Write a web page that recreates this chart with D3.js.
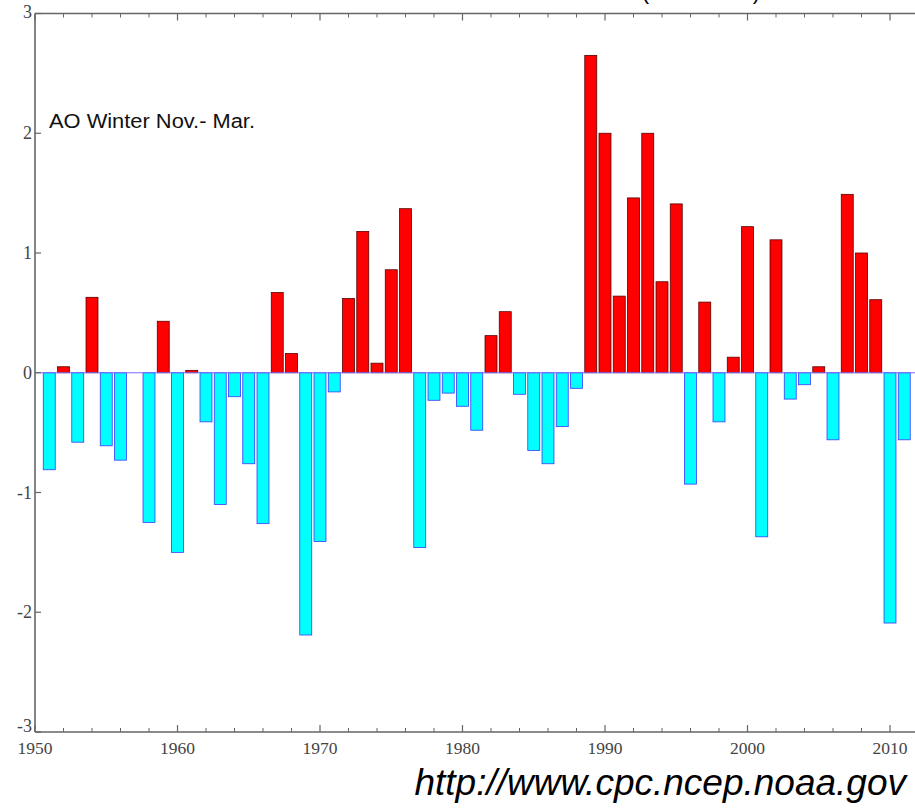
<!DOCTYPE html>
<html>
<head>
<meta charset="utf-8">
<script src="https://cdn.jsdelivr.net/npm/d3@7"></script>
<style>
  body { margin: 0; background: #fff; }
  svg { display: block; }
</style>
</head>
<body>
<svg id="chart" width="915" height="808"></svg>
<script>
// winter (Nov-Mar) AO index, one value per year
const years = d3.range(1951, 2012);
const aoValues = [
  -0.81, 0.05, -0.58, 0.63, -0.61, -0.73, 0.00, -1.25, 0.43, -1.50,
  0.02, -0.41, -1.10, -0.20, -0.76, -1.26, 0.67, 0.16, -2.19, -1.41,
  -0.16, 0.62, 1.18, 0.08, 0.86, 1.37, -1.46, -0.23, -0.17, -0.28,
  -0.48, 0.31, 0.51, -0.18, -0.65, -0.76, -0.45, -0.13, 2.65, 2.00,
  0.64, 1.46, 2.00, 0.76, 1.41, -0.93, 0.59, -0.41, 0.13, 1.22,
  -1.37, 1.11, -0.22, -0.10, 0.05, -0.56, 1.49, 1.00, 0.61, -2.09,
  -0.56
];
const yTicks = [-3, -2, -1, 0, 1, 2, 3];
const xMajorTicks = [1950, 1960, 1970, 1980, 1990, 2000, 2010];
const xMinorTicks = d3.range(1952, 2012, 2).filter(y => y % 10 !== 0);

const data = years.map((yr, i) => ({ year: yr, value: aoValues[i] }));

const svg = d3.select("#chart");
const plotLeft = 35, plotTop = 13.5, plotBottom = 732;
const yearW = 14.25;

var x = d3.scaleLinear().domain([1950, 2012]).range([plotLeft, plotLeft + 62 * yearW]);
var y = d3.scaleLinear().domain([-3, 3]).range([plotBottom, plotTop]);
const barW = yearW * 0.84;

// title, mostly above the top edge as in the source image
svg.append("text")
  .attr("x", 760).attr("y", -1)
  .attr("text-anchor", "end")
  .style("font-family", "Arial, 'Liberation Sans', sans-serif")
  .style("font-size", "22px")
  .text("Arctic Oscillation (1950-2011)");

// bars
svg.selectAll("rect.bar")
  .data(data.filter(d => d.value !== 0))
  .enter()
  .append("rect")
  .attr("class", "bar")
  .attr("x", d => x(d.year) - barW / 2)
  .attr("width", barW)
  .attr("y", d => y(Math.max(0, d.value)))
  .attr("height", d => Math.abs(y(d.value) - y(0)))
  .attr("fill", d => d.value > 0 ? "#ff0000" : "#00ffff")
  .attr("stroke", d => d.value > 0 ? "#5a0000" : "#3a3aff")
  .attr("stroke-width", 0.8);

// zero line
svg.append("line")
  .attr("x1", plotLeft).attr("x2", 915)
  .attr("y1", y(0)).attr("y2", y(0))
  .attr("stroke", "#7b6cff")
  .attr("stroke-width", 1);

// frame axes (left, top, bottom)
const axisCol = "#666";
const axisG = svg.append("g").attr("stroke", axisCol).attr("fill", "none");
axisG.append("line").attr("x1", plotLeft).attr("x2", plotLeft).attr("y1", plotTop).attr("y2", plotBottom).attr("stroke-width", 1.6);
axisG.append("line").attr("x1", plotLeft).attr("x2", 915).attr("y1", plotTop).attr("y2", plotTop).attr("stroke-width", 1.6);
axisG.append("line").attr("x1", plotLeft).attr("x2", 915).attr("y1", plotBottom).attr("y2", plotBottom).attr("stroke-width", 1.6);

// inward ticks on x (bottom and top)
[[plotBottom, -1], [plotTop, 1]].forEach(([yy, dir]) => {
  axisG.selectAll(null).data(xMajorTicks).enter().append("line")
    .attr("x1", d => x(d)).attr("x2", d => x(d))
    .attr("y1", yy).attr("y2", yy + dir * 7)
    .attr("stroke-width", 1.2);
  axisG.selectAll(null).data(xMinorTicks).enter().append("line")
    .attr("x1", d => x(d)).attr("x2", d => x(d))
    .attr("y1", yy).attr("y2", yy + dir * 4)
    .attr("stroke-width", 1);
});

// inward ticks on y
axisG.selectAll(null).data(yTicks).enter().append("line")
  .attr("x1", plotLeft).attr("x2", plotLeft + 6)
  .attr("y1", d => y(d)).attr("y2", d => y(d))
  .attr("stroke-width", 1.2);

// tick labels
const serif = "'Liberation Serif', 'DejaVu Serif', serif";
svg.selectAll("text.ylab")
  .data(yTicks)
  .enter()
  .append("text")
  .attr("class", "ylab")
  .attr("x", plotLeft - 3)
  .attr("y", d => y(d) + (d === -3 ? 0 : d === 3 ? 4 : 6))
  .attr("text-anchor", "end")
  .style("font-family", serif)
  .style("font-size", "18px")
  .style("fill", "#444")
  .text(d => d);

svg.selectAll("text.xlab")
  .data(xMajorTicks)
  .enter()
  .append("text")
  .attr("class", "xlab")
  .attr("x", d => x(d))
  .attr("y", plotBottom + 22)
  .attr("text-anchor", "middle")
  .style("font-family", serif)
  .style("font-size", "17.5px")
  .style("fill", "#444")
  .text(d => d);

// in-plot label
svg.append("text")
  .attr("x", 49).attr("y", 128)
  .attr("textLength", 206)
  .attr("lengthAdjust", "spacingAndGlyphs")
  .style("font-family", "Arial, 'Liberation Sans', sans-serif")
  .style("font-size", "20px")
  .style("fill", "#111")
  .text("AO Winter Nov.- Mar.");

// source url
svg.append("text")
  .attr("x", 906).attr("y", 795)
  .attr("text-anchor", "end")
  .style("font-family", "Arial, 'Liberation Sans', sans-serif")
  .style("font-style", "italic")
  .style("font-size", "37px")
  .style("fill", "#000")
  .text("http://www.cpc.ncep.noaa.gov");
</script>
</body>
</html>
